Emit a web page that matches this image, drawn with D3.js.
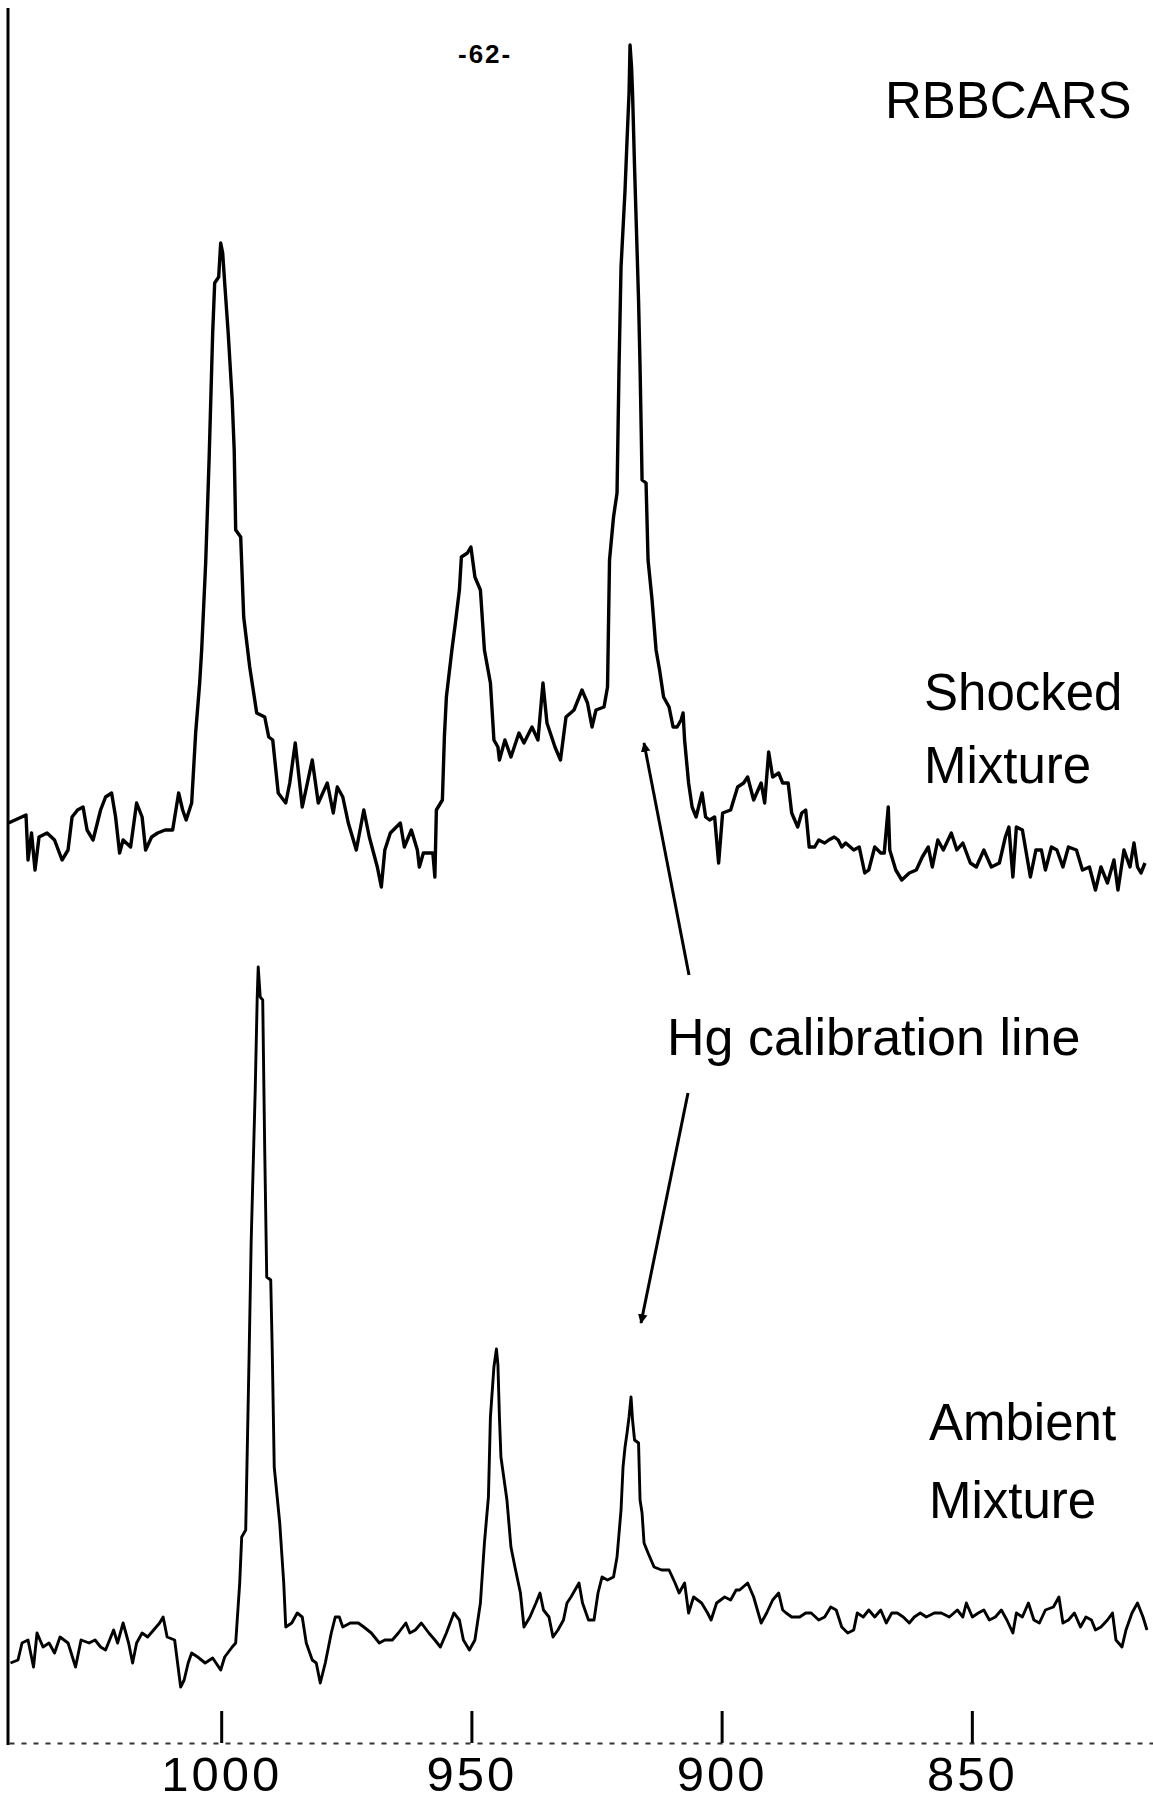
<!DOCTYPE html>
<meta charset="utf-8">
<head>
<style>
html, body{margin:0px; padding:0px; background:white;}
svg text {font-family: "Liberation Sans", Arial, sans-serif; fill: black;}
</style>
</head>
<script src="https://d3js.org/d3.v7.min.js"></script>

<div id="my_dataviz"></div>

<script>

// Raman shift (cm-1) of the tick marks
var xTicks = [1000, 950, 900, 850]

// shocked mixture trace: [Raman shift cm-1, intensity a.u.]
var shocked = [
[1042.5,77],[1039.0,85],[1038.6,40],[1037.9,67],[1037.2,30],[1036.4,63],[1034.8,67],[1033.3,60],[1031.8,40],[1030.6,50],
[1029.8,83],[1028.7,90],[1027.6,93],[1026.8,70],[1025.6,60],[1024.1,90],[1023.1,103],[1021.9,107],[1021.1,83],[1020.3,47],
[1019.6,60],[1018.1,53],[1016.9,97],[1015.8,83],[1015.1,50],[1013.9,63],[1012.7,67],[1011.2,70],[1009.7,70],[1008.5,107],
[1007.7,90],[1007.0,80],[1005.9,97],[1005.1,167],[1004.3,217],[1003.9,250],[1003.1,337],[1002.4,443],[1001.7,567],[1001.3,617],
[1000.5,623],[1000.1,657],[999.7,647],[999.3,617],[998.6,567],[997.8,500],[997.4,450],[997.1,370],[996.1,363],[995.5,283],
[994.3,233],[992.9,187],[991.3,183],[990.5,163],[989.7,160],[988.6,107],[987.1,97],[986.3,117],[985.2,157],[983.8,93],
[981.8,140],[980.6,97],[978.8,117],[977.6,87],[976.8,113],[975.7,103],[974.6,77],[973.0,50],[971.5,90],[970.4,63],
[968.8,33],[968.0,13],[967.3,50],[966.2,67],[964.2,77],[963.4,53],[962.0,70],[960.8,50],[960.4,33],[959.6,47],
[957.7,47],[957.3,23],[957.0,90],[955.8,100],[955.4,163],[955.0,203],[953.9,250],[953.2,277],[952.4,310],[952.0,343],
[950.8,347],[950.1,353],[949.3,323],[948.2,310],[947.4,250],[946.2,217],[945.5,160],[944.7,153],[944.4,140],[943.3,160],
[942.1,143],[940.5,167],[939.5,157],[937.9,173],[936.7,160],[935.7,217],[934.9,177],[933.3,153],[932.2,140],[931.1,183],
[929.5,190],[927.9,210],[926.8,197],[925.9,173],[925.1,190],[923.5,193],[922.8,213],[922.4,340],[921.6,383],[920.9,407],
[920.5,533],[920.1,633],[919.3,710],[918.9,760],[918.5,807],[918.3,855],[918.0,833],[917.8,807],[917.4,733],[917.0,667],
[916.6,600],[916.3,533],[916.0,450],[915.9,420],[915.1,417],[914.7,340],[913.9,300],[913.1,250],[912.4,230],[911.6,203],
[910.5,193],[909.7,173],[908.9,173],[908.1,180],[907.7,187],[907.4,160],[906.6,117],[905.9,93],[905.1,83],[903.9,107],
[903.2,83],[902.4,80],[901.4,83],[900.6,37],[899.8,87],[898.2,90],[896.8,113],[895.6,117],[894.8,123],[893.6,100],
[892.1,117],[891.4,97],[890.6,148],[889.8,123],[888.6,127],[887.8,117],[886.7,117],[886.0,87],[884.8,73],[884.0,87],
[883.2,90],[882.5,53],[881.4,53],[880.6,60],[879.4,57],[878.6,60],[877.5,63],[876.7,60],[876.0,53],[875.2,57],
[873.6,50],[872.5,53],[871.4,27],[870.6,30],[869.4,53],[868.2,47],[867.5,47],[866.7,93],[866.4,50],[865.2,30],
[864.0,20],[862.5,27],[861.1,30],[859.9,43],[858.7,53],[857.9,33],[856.8,60],[855.7,50],[854.1,67],[853.0,50],
[851.8,57],[850.3,37],[849.1,33],[847.6,50],[846.1,33],[844.5,37],[843.3,63],[842.6,73],[841.8,23],[841.1,73],
[839.9,70],[838.3,23],[837.2,50],[836.1,50],[835.3,30],[834.1,53],[833.0,50],[831.8,33],[830.7,53],[829.1,50],
[827.9,30],[826.5,33],[825.3,10],[824.2,33],[822.9,17],[821.6,40],[820.8,10],[819.6,50],[818.4,33],[817.6,57],
[816.9,33],[816.2,27],[815.4,37]
]

// ambient mixture trace: [Raman shift cm-1, intensity a.u.]
var ambient = [
[1042.1,37],[1040.6,40],[1039.8,57],[1038.6,60],[1037.5,33],[1036.8,67],[1035.6,53],[1034.4,57],[1033.3,47],[1032.2,63],
[1030.6,57],[1029.1,33],[1028.0,60],[1026.4,57],[1025.2,60],[1024.1,53],[1023.1,50],[1021.5,70],[1020.7,57],[1019.6,77],
[1018.5,57],[1017.7,37],[1016.9,57],[1015.8,67],[1014.7,63],[1013.5,70],[1012.3,77],[1011.6,83],[1010.8,63],[1009.3,60],
[1008.1,13],[1007.4,20],[1006.6,37],[1005.9,47],[1004.7,43],[1003.2,37],[1001.7,42],[1000.1,30],[999.3,43],[997.8,53],
[997.1,57],[996.3,117],[995.9,163],[995.1,170],[994.4,350],[994.0,460],[993.2,610],[992.8,703],[992.6,733],[992.2,703],
[991.7,700],[991.3,550],[990.9,423],[990.1,420],[989.8,350],[989.4,233],[988.3,177],[987.5,117],[987.1,73],[985.9,77],
[984.8,87],[983.8,83],[983.0,57],[981.8,40],[981.0,37],[980.2,17],[979.2,37],[978.0,67],[977.2,83],[976.4,83],
[975.7,73],[974.2,77],[972.6,77],[971.5,73],[970.0,67],[968.4,57],[967.3,60],[965.8,60],[964.6,67],[963.1,77],
[962.3,67],[961.2,70],[960.0,77],[958.5,67],[957.3,60],[956.2,53],[955.0,67],[953.5,87],[952.4,80],[951.6,60],
[950.4,50],[949.3,60],[948.2,97],[947.4,157],[946.6,203],[946.2,283],[945.5,333],[945.0,351],[944.7,335],[944.4,283],
[944.1,243],[942.9,200],[942.1,153],[941.3,133],[940.2,107],[939.5,73],[938.3,83],[937.1,97],[936.3,107],[935.6,90],
[934.5,83],[933.7,63],[932.7,70],[931.6,80],[930.9,97],[930.1,103],[929.3,110],[928.5,117],[927.8,97],[926.6,80],
[925.5,80],[924.7,107],[923.9,123],[922.8,120],[921.6,123],[920.9,143],[920.1,190],[919.7,233],[919.3,253],[918.9,267],
[918.5,283],[918.1,303],[917.8,280],[917.4,260],[916.6,257],[916.3,200],[915.9,187],[915.5,157],[914.7,147],[913.5,133],
[912.0,130],[910.5,130],[909.3,117],[908.5,107],[907.4,117],[906.6,87],[905.6,103],[904.0,97],[902.8,87],[902.1,80],
[901.0,97],[899.4,103],[898.2,100],[897.1,110],[896.4,110],[894.8,117],[893.6,103],[892.1,77],[891.0,87],[889.8,100],
[888.6,107],[887.8,90],[887.1,87],[886.0,83],[884.4,83],[883.2,87],[882.1,87],[880.6,80],[879.4,83],[878.2,93],
[877.1,90],[876.0,73],[874.8,67],[873.6,70],[872.9,87],[871.7,83],[870.6,90],[869.4,83],[868.2,90],[867.1,77],
[866.0,87],[864.9,87],[863.7,83],[862.5,77],[861.5,83],[860.3,87],[859.1,83],[857.5,87],[856.1,87],[854.5,83],
[852.9,90],[851.8,83],[851.1,97],[849.9,83],[848.7,87],[847.6,90],[846.5,80],[845.3,83],[844.1,90],[843.0,80],
[841.8,67],[841.1,87],[839.9,83],[838.7,97],[837.6,80],[836.5,77],[835.3,90],[833.7,93],[832.6,103],[831.8,77],
[830.7,80],[829.5,87],[828.3,73],[827.2,83],[826.1,80],[825.3,70],[824.2,73],[822.9,80],[821.9,87],[821.2,60],
[820.0,53],[819.2,70],[818.0,87],[816.9,97],[815.8,83],[815.0,70]
]

var width = 1153,
    height = 1805,
    axisY = 1743

var svg = d3.select("#my_dataviz")
  .append("svg")
    .attr("width", width)
    .attr("height", height)

svg.append("rect")
  .attr("width", width)
  .attr("height", height)
  .style("fill", "white")

// x runs from high to low wavenumber
var x = d3.scaleLinear()
  .domain([1042.4, 813.8])
  .range([9, width])

// one y scale per trace, same gain, different offsets
var yShock = d3.scaleLinear()
  .domain([0, 900])
  .range([900, 0])

var yAmb = d3.scaleLinear()
  .domain([0, 900])
  .range([1700, 800])

// bottom axis: ticks point up, labels below
var xAxis = svg.append("g")
  .attr("transform", "translate(0," + axisY + ")")
  .call(d3.axisBottom(x).tickValues(xTicks).tickSizeInner(-32).tickSizeOuter(0).tickPadding(13).tickFormat(d3.format("d")))

xAxis.select(".domain")
  .style("stroke", "#333")
  .style("stroke-width", 2)
  .style("stroke-dasharray", "5,7")

xAxis.selectAll(".tick line")
  .style("stroke", "black")
  .style("stroke-width", 3)

xAxis.selectAll(".tick text")
  .style("font-size", "49px")
  .style("letter-spacing", "3px")
  .style("font-family", "'Liberation Sans', Arial, sans-serif")
  .style("fill", "black")

// left frame line
svg.append("line")
  .attr("x1", 8).attr("x2", 8)
  .attr("y1", 8).attr("y2", axisY + 2)
  .style("stroke", "black")
  .style("stroke-width", 3)

// the two spectra
var lineShock = d3.line()
  .x(function(d) { return x(d[0]) })
  .y(function(d) { return yShock(d[1]) })

var lineAmb = d3.line()
  .x(function(d) { return x(d[0]) })
  .y(function(d) { return yAmb(d[1]) })

svg.append("path")
  .datum(shocked)
  .attr("d", lineShock)
  .style("fill", "none")
  .style("stroke", "black")
  .style("stroke-width", 3.4)
  .style("stroke-linejoin", "round")

svg.append("path")
  .datum(ambient)
  .attr("d", lineAmb)
  .style("fill", "none")
  .style("stroke", "black")
  .style("stroke-width", 2.9)
  .style("stroke-linejoin", "round")

// labels
svg.append("text")
  .attr("x", 458).attr("y", 63)
  .style("font-size", "26px")
  .style("font-weight", "bold")
  .style("letter-spacing", "2px")
  .text("-62-")

svg.append("text")
  .attr("x", 885).attr("y", 118)
  .style("font-size", "51px")
  .text("RBBCARS")

svg.append("text")
  .attr("x", 924).attr("y", 710)
  .style("font-size", "51px")
  .text("Shocked")

svg.append("text")
  .attr("x", 924).attr("y", 783)
  .style("font-size", "51px")
  .text("Mixture")

svg.append("text")
  .attr("x", 667).attr("y", 1055)
  .style("font-size", "52px")
  .text("Hg calibration line")

svg.append("text")
  .attr("x", 929).attr("y", 1440)
  .style("font-size", "51px")
  .text("Ambient")

svg.append("text")
  .attr("x", 929).attr("y", 1518)
  .style("font-size", "51px")
  .text("Mixture")

// arrows pointing at the Hg line in each trace
svg.append("defs").append("marker")
  .attr("id", "head")
  .attr("viewBox", "0 0 10 10")
  .attr("refX", 9).attr("refY", 5)
  .attr("markerWidth", 3.2).attr("markerHeight", 7)
  .attr("markerUnits", "strokeWidth")
  .attr("orient", "auto")
  .append("path")
    .attr("d", "M0,0 L10,5 L0,10 Z")
    .style("fill", "black")

svg.append("line")
  .attr("x1", 689).attr("y1", 975)
  .attr("x2", 644).attr("y2", 743)
  .style("stroke", "black")
  .style("stroke-width", 3)
  .attr("marker-end", "url(#head)")

svg.append("line")
  .attr("x1", 688).attr("y1", 1093)
  .attr("x2", 641).attr("y2", 1323)
  .style("stroke", "black")
  .style("stroke-width", 3)
  .attr("marker-end", "url(#head)")

</script>
</html>
